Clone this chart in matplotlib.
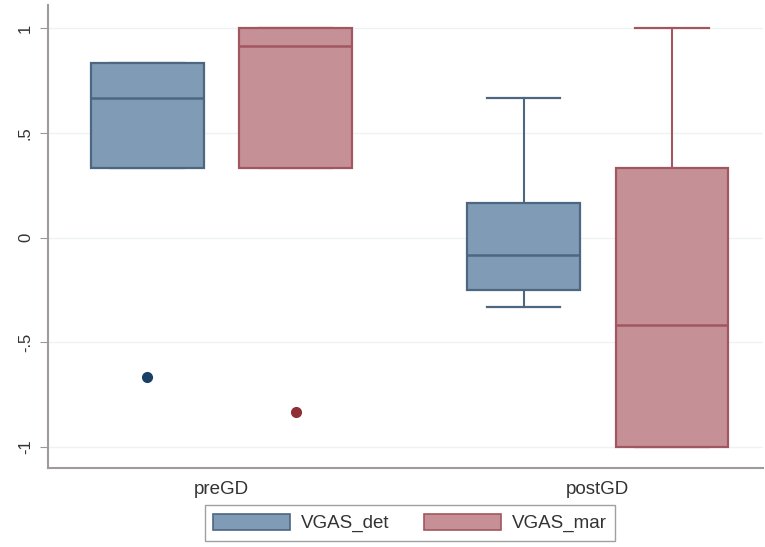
import matplotlib
matplotlib.use("Agg")
import matplotlib.pyplot as plt
from matplotlib.patches import Patch

plt.rcParams["font.family"] = ["Liberation Sans", "DejaVu Sans"]

groups = ["preGD", "postGD"]
series = ["VGAS_det", "VGAS_mar"]
# [q1, median, q3, whisker_low, whisker_high] per group
det_stats = [[0.333, 0.667, 0.833, 0.333, 0.833], [-0.25, -0.083, 0.167, -0.333, 0.667]]
mar_stats = [[0.333, 0.917, 1.0, 0.333, 1.0], [-1.0, -0.417, 0.333, -1.0, 1.0]]
det_outliers = [[-0.667], []]
mar_outliers = [[-0.833], []]
yticks = [-1, -0.5, 0, 0.5, 1]
yticklabels = ["-1", "-.5", "0", ".5", "1"]

fills = ["#7f9bb6", "#c69196"]
edges = ["#4e6781", "#a2565f"]
dots = ["#1a3f66", "#8f2e33"]

fig = plt.figure(figsize=(7.65, 5.47), dpi=100)
ax = fig.add_axes([0.063, 0.1444, 0.935, 0.846])

offset = 0.197
width = 0.30
for si, (stats_list, outs) in enumerate([(det_stats, det_outliers), (mar_stats, mar_outliers)]):
    bstats = []
    pos = []
    for gi, (s, o) in enumerate(zip(stats_list, outs)):
        q1, med, q3, lo, hi = s
        bstats.append(dict(q1=q1, med=med, q3=q3, whislo=lo, whishi=hi, fliers=o))
        pos.append(gi + (-offset if si == 0 else offset))
    ax.bxp(bstats, positions=pos, widths=width, patch_artist=True, showfliers=True,
           capwidths=width * 0.65,
           boxprops=dict(facecolor=fills[si], edgecolor=edges[si], linewidth=1.6),
           medianprops=dict(color=edges[si], linewidth=1.8),
           whiskerprops=dict(color=edges[si], linewidth=1.5, zorder=2.5),
           capprops=dict(color=edges[si], linewidth=1.6, zorder=2.5),
           flierprops=dict(marker="o", markerfacecolor=dots[si], markeredgecolor=dots[si],
                           markersize=7),
           zorder=3)

ax.set_xlim(-0.46, 1.44)
ax.set_ylim(-1.10, 1.11)
ax.set_yticks(yticks)
ax.set_yticklabels(yticklabels, rotation=90, va="center", fontsize=12, color="#333333")
ax.set_xticks([0, 1])
ax.set_xticklabels(groups, fontsize=13.5, color="#333333")
ax.tick_params(axis="x", length=0, pad=9)
ax.tick_params(axis="y", length=6, color="#999999", pad=5)
for y in yticks:
    ax.axhline(y, color="#eef2f2", linewidth=1, zorder=0)
for sp in ["top", "right"]:
    ax.spines[sp].set_visible(False)
for sp in ["left", "bottom"]:
    ax.spines[sp].set_color("#a09a98")
    ax.spines[sp].set_linewidth(1.5)

handles = [Patch(facecolor=fills[i], edgecolor=edges[i], linewidth=1.2, label=series[i]) for i in range(2)]
fig.legend(handles=handles, loc="center", bbox_to_anchor=(410 / 765, 1 - 523 / 547), ncol=2,
           frameon=True, fancybox=False, edgecolor="#888888", fontsize=13.5,
           handlelength=4.1, handleheight=1.0, handletextpad=0.6, columnspacing=1.8,
           borderpad=0.45, labelcolor="#333333")

fig.savefig("out.png", dpi=100)
